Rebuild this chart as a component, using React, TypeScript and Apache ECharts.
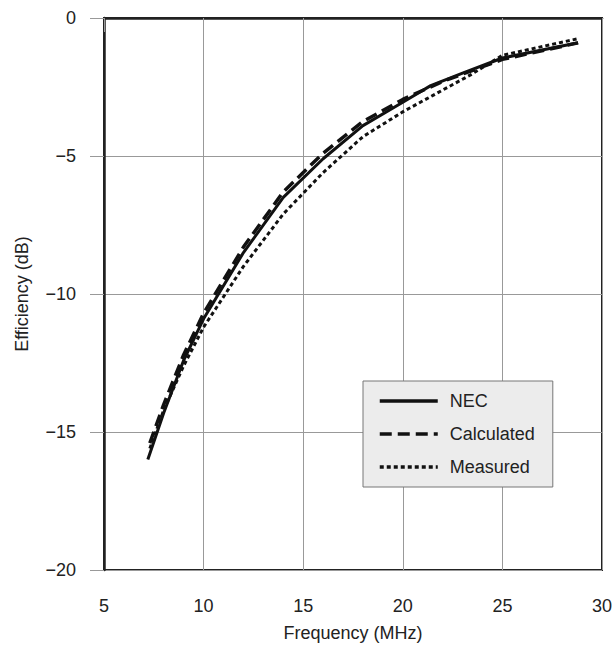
import React, { useEffect, useRef } from "react";
import * as echarts from "echarts";

const xTicks = [5, 10, 15, 20, 25, 30];
const yTicks = [0, -5, -10, -15, -20];

const necData: [number, number][] = [
  [7.2, -16.0], [8, -14.3], [9, -12.4], [10, -10.9], [12, -8.5], [14, -6.5],
  [16, -5.1], [18, -3.9], [20, -3.05], [21.4, -2.45], [23, -2.0], [25, -1.45], [28.8, -0.9],
];
const calculatedData: [number, number][] = [
  [7.3, -15.4], [8, -14.0], [9, -12.2], [10, -10.7], [12, -8.3], [14, -6.3],
  [16, -4.9], [18, -3.75], [20, -2.95], [22, -2.3], [25, -1.5], [28.8, -0.9],
];
const measuredData: [number, number][] = [
  [7.3, -15.6], [8, -14.2], [9, -12.6], [10, -11.2], [12, -9.0], [14, -7.1],
  [16, -5.6], [18, -4.3], [20, -3.4], [23.4, -2.06], [25, -1.35], [28.8, -0.75],
];

const FONT = "Liberation Sans";

export default function App() {
  const ref = useRef<HTMLDivElement>(null);
  useEffect(() => {
    const chart = echarts.init(ref.current!, null, { renderer: "svg" });
    chart.setOption({
      animation: false,
      backgroundColor: "#fff",
      textStyle: { fontFamily: FONT },
      grid: {
        left: 104, right: 14, top: 18, bottom: 75,
        show: true, borderColor: "#222", borderWidth: 2,
      },
      legend: {
        orient: "vertical",
        left: 363, top: 381,
        width: 188,
        padding: [11, 18, 11, 15],
        backgroundColor: "#ececec",
        borderColor: "#777",
        borderWidth: 1,
        itemWidth: 58,
        itemHeight: 14,
        itemGap: 15,
        itemStyle: { opacity: 0 },
        lineStyle: { width: 3.5 },
        textStyle: { fontFamily: FONT, fontSize: 18, color: "#222", padding: [0, 0, 0, 7] },
        data: ["NEC", "Calculated", "Measured"],
      },
      xAxis: {
        type: "value", min: 5, max: 30, interval: 5,
        name: "Frequency (MHz)", nameLocation: "middle", nameGap: 54,
        nameTextStyle: { fontFamily: FONT, fontSize: 18, color: "#222" },
        axisLine: { show: true, lineStyle: { color: "#222", width: 2.5 } },
        axisTick: { show: true, length: 14, lineStyle: { color: "#999", width: 1 } },
        axisLabel: {
          fontFamily: FONT, fontSize: 18, color: "#222", margin: 27,
          formatter: (v: number) => (xTicks.includes(v) ? String(v) : ""),
        },
        splitLine: { show: true, lineStyle: { color: "#999", width: 1 } },
      },
      yAxis: {
        type: "value", min: -20, max: 0, interval: 5,
        name: "Efficiency (dB)", nameLocation: "middle", nameGap: 73,
        nameTextStyle: { fontFamily: FONT, fontSize: 18, color: "#222" },
        axisLine: { show: true, lineStyle: { color: "#222", width: 2.5 } },
        axisTick: { show: true, length: 14, lineStyle: { color: "#999", width: 1 } },
        axisLabel: {
          fontFamily: FONT, fontSize: 18, color: "#222", margin: 28,
          formatter: (v: number) =>
            yTicks.includes(v) ? (v < 0 ? "\u2212" + Math.abs(v) : String(v)) : "",
        },
        splitLine: { show: true, lineStyle: { color: "#999", width: 1 } },
      },
      series: [
        {
          name: "NEC", type: "line", data: necData, symbol: "none",
          lineStyle: { color: "#111", width: 3, type: "solid" },
          itemStyle: { color: "#111" }, z: 3,
        },
        {
          name: "Calculated", type: "line", data: calculatedData, symbol: "none",
          lineStyle: { color: "#111", width: 3.5, type: [12, 6] },
          itemStyle: { color: "#111" }, z: 2,
        },
        {
          name: "Measured", type: "line", data: measuredData, symbol: "none",
          lineStyle: { color: "#111", width: 3, type: [4, 3] },
          itemStyle: { color: "#111" }, z: 2,
        },
      ],
    });
    return () => chart.dispose();
  }, []);
  return (
    <div
      ref={ref}
      style={{ position: "fixed", left: 0, top: 0, width: 616, height: 647 }}
    />
  );
}
